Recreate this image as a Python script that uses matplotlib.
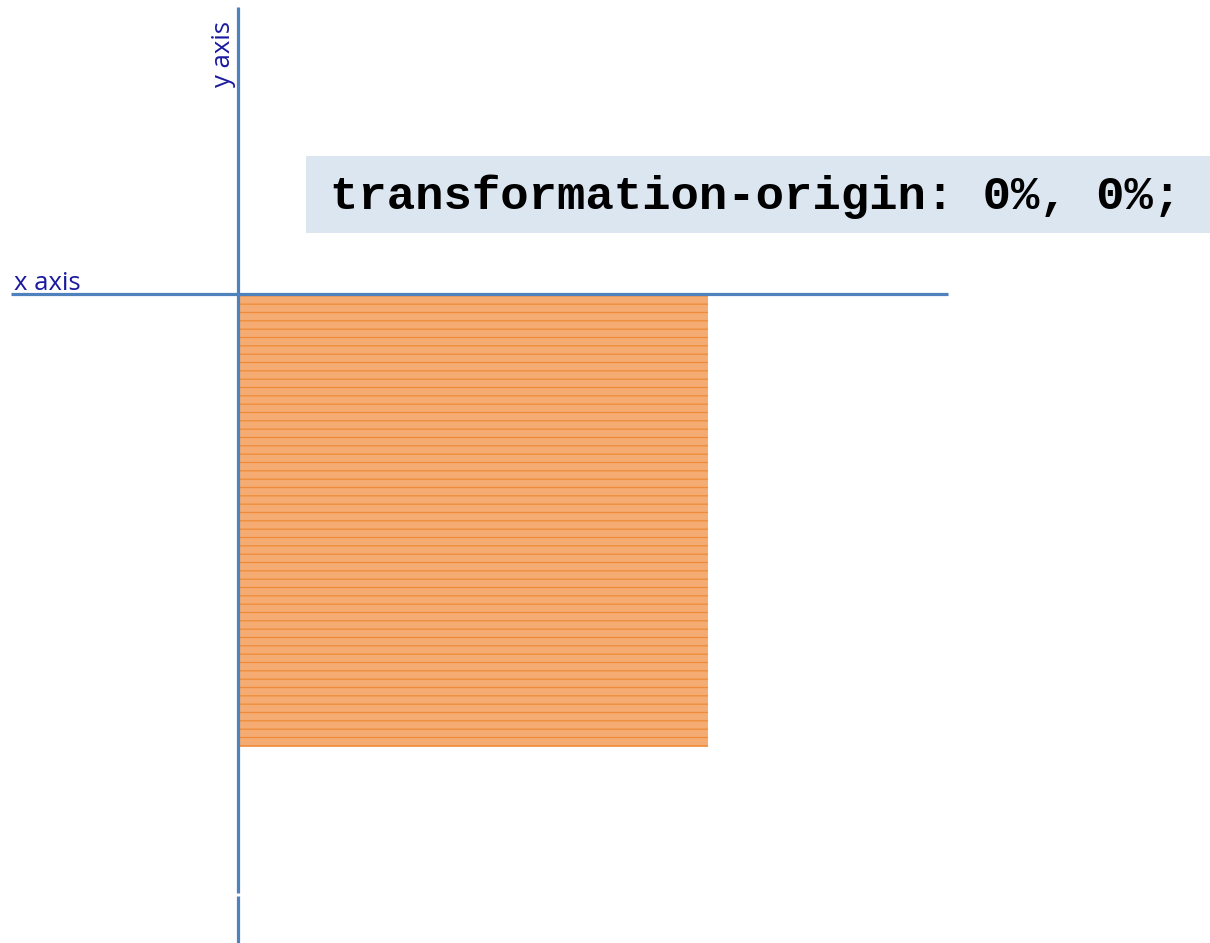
import matplotlib.pyplot as plt
from matplotlib.patches import Rectangle

# figure geometry in pixels (origin top left)
W, H = 1210, 943

# axis lines: (x0, y0, x1, y1)
x_axis_line = [11, 294, 948, 294]
y_axis_segments = [[238, 7, 238, 893], [238, 896, 238, 943]]

# orange square: left, top, right, bottom
square = [239, 296, 708, 747]

# code box: left, top, right, bottom
code_box = [306, 156, 1210, 233]
code_text = 'transformation-origin: 0%, 0%;'

axis_labels = ['x axis', 'y axis']

fig = plt.figure(figsize=(W / 100, H / 100), dpi=100)
ax = fig.add_axes([0, 0, 1, 1])
ax.set_xlim(0, W)
ax.set_ylim(H, 0)
ax.axis('off')

line_col = '#4F81BD'
label_col = '#1A1AA0'

# square with a woven look
plt.rcParams['hatch.linewidth'] = 0.9
ax.add_patch(Rectangle((square[0], square[1]), square[2] - square[0], square[3] - square[1],
                       facecolor='#F4AC72', edgecolor='#EE8A38', hatch='--', linewidth=0, zorder=1))

# code box
ax.add_patch(Rectangle((code_box[0], code_box[1]), code_box[2] - code_box[0], code_box[3] - code_box[1],
                       facecolor='#DCE6F1', edgecolor='none', zorder=1))
ax.text(code_box[0] + 24, (code_box[1] + code_box[3]) / 2 + 2, code_text,
        family='Liberation Mono', weight='bold', fontsize=34, color='black',
        ha='left', va='center', zorder=3)

# axes lines
ax.plot([x_axis_line[0], x_axis_line[2]], [x_axis_line[1], x_axis_line[3]],
        color=line_col, lw=2.3, solid_capstyle='butt', zorder=2)
for seg in y_axis_segments:
    ax.plot([seg[0], seg[2]], [seg[1], seg[3]], color=line_col, lw=2.3,
            solid_capstyle='butt', zorder=2)

# labels
ax.text(14, 290, axis_labels[0], family='Open Sans', fontsize=18.5, color=label_col,
        ha='left', va='baseline')
ax.text(236, 21, axis_labels[1], family='Open Sans', fontsize=18.5, color=label_col,
        ha='right', va='top', rotation=90)

fig.savefig('out.png', dpi=100)
